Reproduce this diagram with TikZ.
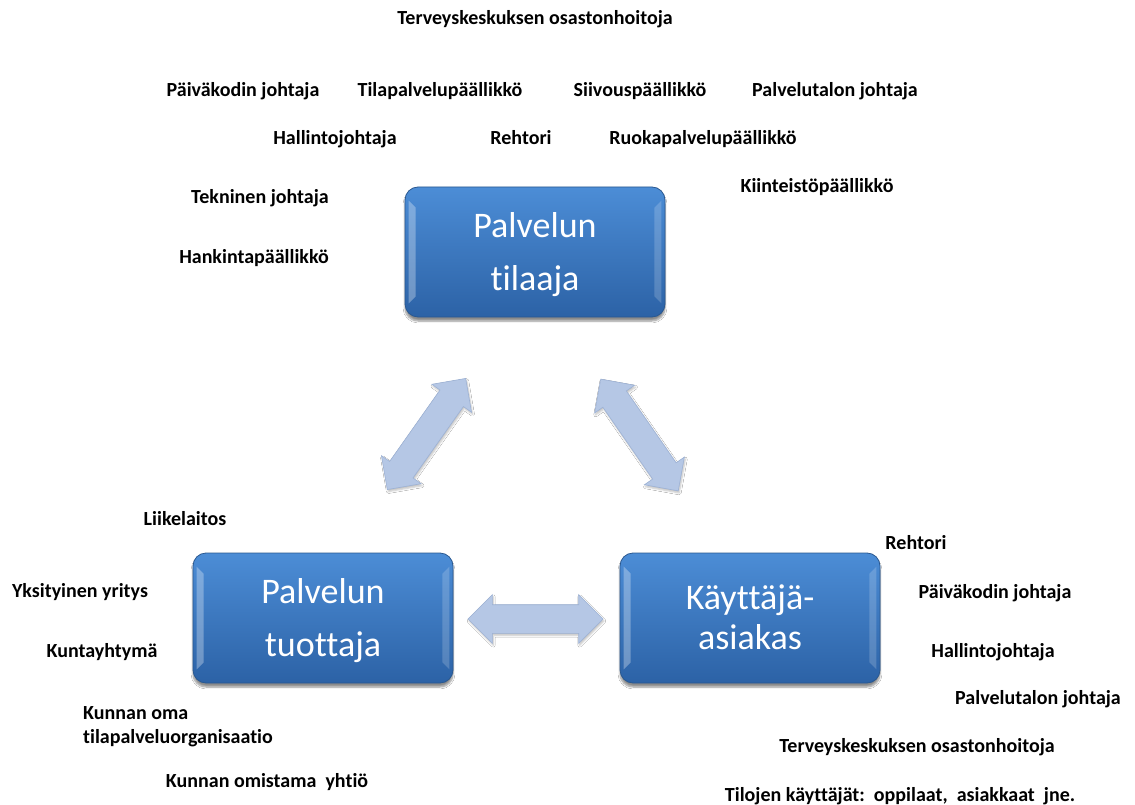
\documentclass[tikz,border=0pt]{standalone}
\usepackage{fontspec}
\setmainfont{Carlito}[Ligatures=NoCommon]
\usetikzlibrary{positioning,calc,shapes.arrows,shadows.blur}
\definecolor{boxtop}{HTML}{4C8DD6}
\definecolor{boxbot}{HTML}{2C62A6}
\definecolor{boxrim}{HTML}{2A5890}
\definecolor{arrfill}{HTML}{B5C7E5}
\definecolor{arrrim}{HTML}{9DB2D5}
\tikzset{
  rolebox/.style={
    rounded corners=13pt, draw=boxrim, line width=0.8pt,
    top color=boxtop, bottom color=boxbot,
    minimum width=260pt, minimum height=130pt, inner sep=0pt,
    align=center, text=white, font=\fontsize{36}{53}\selectfont,
    blur shadow={shadow xshift=0pt, shadow yshift=-4pt,
                 shadow blur steps=6, shadow opacity=45}},
  lbl/.style={font=\fontsize{20}{24}\selectfont\bfseries, text=black,
    inner sep=0pt, text height=15pt, text depth=2pt},
  darr/.style={
    double arrow, draw=arrrim, fill=arrfill, line width=0.6pt,
    double arrow head extend=10pt, inner xsep=0pt, inner ysep=14pt,
    minimum height=#1,
    blur shadow={shadow xshift=1pt, shadow yshift=-2pt,
                 shadow blur steps=4, shadow opacity=25}},
}
% two lines in a box, the second one #3 below the usual spacing
\newcommand{\inbox}[3][0pt]{\rule{0pt}{31pt}#2\\[#1]#3\rule[-8pt]{0pt}{8pt}}
% light bevel strips on the left and right edges of a box
\newcommand{\bevel}[1]{%
  \fill[white, opacity=.30] ($(#1.north west)+(4,14)$) -- ($(#1.north west)+(11,21)$)
    -- ($(#1.south west)+(11,-21)$) -- ($(#1.south west)+(4,-14)$) -- cycle;
  \fill[white, opacity=.18] ($(#1.north east)+(-4,14)$) -- ($(#1.north east)+(-11,21)$)
    -- ($(#1.south east)+(-11,-21)$) -- ($(#1.south east)+(-4,-14)$) -- cycle;
}

\begin{document}
\begin{tikzpicture}[x=1pt, y=-1pt]
\fill[white] (0,0) rectangle (1135,805);
\useasboundingbox (0,0) rectangle (1135,805);

% =====================================================================
% the three parties
\node[rolebox] (tilaaja)  at (535,252) {\inbox{Palvelun}{tilaaja}};
\node[rolebox] (tuottaja) at (323,618) {\inbox{Palvelun}{tuottaja}};
\node[rolebox] (asiakas)  at (750,618) {\inbox[-13pt]{Käyttäjä-}{asiakas}};
\foreach \b in {tilaaja, tuottaja, asiakas}
  \bevel{\b};

% =====================================================================
% the arrows between them
\coordinate (la) at (387,490);
\coordinate (lb) at (466,378);
\coordinate (ra) at (600,378);
\coordinate (rb) at (679,492);
\coordinate (ha) at (468,619);
\coordinate (hb) at (603,619);
\path (la) -- (lb) node[darr=136pt, midway, sloped] (arrL) {};
\path (ra) -- (rb) node[darr=136pt, midway, sloped] (arrR) {};
\path (ha) -- (hb) node[darr=135pt, midway, sloped] (arrH) {};

% =====================================================================
% who orders
\node[lbl] (osasto)      at (535,18)  {Terveyskeskuksen osastonhoitoja};
\node[lbl] (paivakoti)   at (243,90)  {Päiväkodin johtaja};
\node[lbl] (tilapalvelu) at (440,90)  {Tilapalvelupäällikkö};
\node[lbl] (siivous)     at (640,90)  {Siivouspäällikkö};
\node[lbl] (palvelutalo) at (835,90)  {Palvelutalon johtaja};
\node[lbl] (hallinto)    at (335,138) {Hallintojohtaja};
\node[lbl] (rehtori)     at (521,138) {Rehtori};
\node[lbl] (ruoka)       at (703,138) {Ruokapalvelupäällikkö};
\node[lbl] (kiinteisto)  at (817,186) {Kiinteistöpäällikkö};
\node[lbl] (tekninen)    at (260,197) {Tekninen johtaja};
\node[lbl] (hankinta)    at (254,257) {Hankintapäällikkö};

% who produces
\node[lbl] (liikelaitos) at (185,519) {Liikelaitos};
\node[lbl] (yksityinen)  at (80,591)  {Yksityinen yritys};
\node[lbl] (kuntayhtyma) at (102,651) {Kuntayhtymä};
\node[lbl, align=left, anchor=west, text height=, text depth=] (kunnanoma) at (83,727)
  {Kunnan oma\\tilapalveluorganisaatio};
\node[lbl] (yhtio)       at (267,781) {Kunnan omistama\ \ yhtiö};

% who uses
\node[lbl] (rehtori2)     at (916,543)  {Rehtori};
\node[lbl] (paivakoti2)   at (995,592)  {Päiväkodin johtaja};
\node[lbl] (hallinto2)    at (993,651)  {Hallintojohtaja};
\node[lbl] (palvelutalo2) at (1038,698) {Palvelutalon johtaja};
\node[lbl] (osasto2)      at (917,746)  {Terveyskeskuksen osastonhoitoja};
\node[lbl] (kayttajat)    at (900,795)  {Tilojen käyttäjät:\ \ oppilaat,\ \ asiakkaat\ \ jne.};

\end{tikzpicture}
\end{document}
